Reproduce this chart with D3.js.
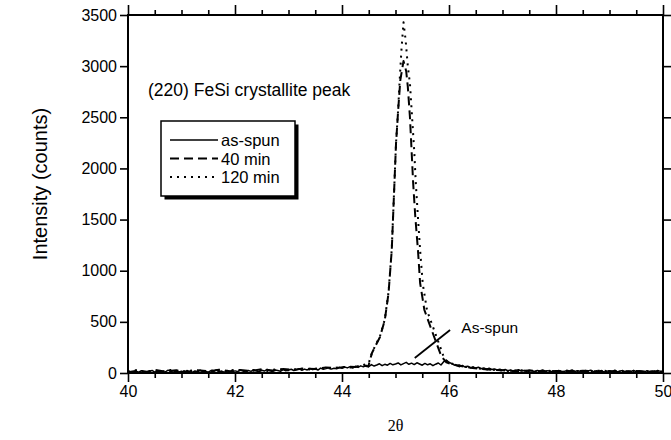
<!DOCTYPE html>
<html>
<head>
<meta charset="utf-8">
<script src="https://cdn.jsdelivr.net/npm/d3@7"></script>
<style>
    body { margin: 0; background: #fff; }
    svg { font-family: "Liberation Sans", Arial, Helvetica, sans-serif; }
    .axis path, .axis line { stroke: #000; }
</style>
</head>
<body>
<div id="chart"></div>
<script>
'use strict';

// as-spun scan: start angle, step width and counts (one value per step)
const asSpunStart = 40;
const asSpunStep = 0.05;
const asSpunCounts = [
    5, 12, 3, 18, 8, 22, 10, 4, 16, 25, 9, 14, 20, 6, 12, 28, 15, 8, 19, 11,
    17, 9, 24, 13, 6, 20, 15, 27, 10, 18, 8, 22, 14, 30, 12, 19, 7, 24, 16, 11,
    21, 14, 28, 18, 9, 25, 16, 32, 20, 13, 27, 19, 35, 22, 15, 29, 24, 17, 33, 21,
    28, 37, 24, 31, 42, 26, 38, 30, 45, 33, 40, 29, 48, 36, 43, 52, 38, 47, 41, 55,
    46, 58, 50, 62, 48, 66, 55, 70, 60, 75, 63, 82, 68, 78, 90, 72, 85, 76, 94, 80,
    88, 98, 79, 92, 104, 85, 96, 82, 100, 88, 76, 94, 80, 90, 72, 86, 98, 78, 110, 125,
    105, 92, 78, 70, 62, 74, 58, 66, 52, 60, 48, 56, 42, 50, 38, 46, 34, 40, 30, 36,
    28, 34, 22, 30, 18, 26, 32, 20, 24, 16, 28, 22, 14, 25, 19, 30, 17, 23, 12, 20,
    15, 24, 18, 10, 26, 20, 30, 14, 22, 17, 12, 25, 19, 28, 13, 21, 16, 24, 9, 18,
    22, 14, 27, 11, 19, 24, 8, 20, 15, 26, 12, 21, 17, 9, 23, 14, 19, 11, 25, 16,
    12
];

// 40 min anneal: [2theta, counts]
const min40 = [
    [40.0, 8], [40.2, 24], [40.35, 12], [40.5, 30], [40.7, 14], [40.9, 26],
    [41.1, 10], [41.3, 28], [41.5, 16], [41.7, 32], [41.9, 18], [42.1, 30],
    [42.3, 20], [42.5, 36], [42.7, 24], [42.9, 38], [43.1, 30], [43.3, 45],
    [43.5, 38], [43.7, 55], [43.9, 48], [44.1, 62], [44.25, 58], [44.4, 75],
    [44.49, 62], [44.56, 196], [44.63, 270], [44.71, 352], [44.8, 518],
    [44.87, 782], [44.93, 1202], [44.96, 1593], [45.01, 2245], [45.05, 2571],
    [45.09, 2864], [45.15, 3050], [45.2, 2950], [45.23, 2800], [45.27, 2500],
    [45.3, 2180], [45.33, 1857], [45.37, 1528], [45.42, 1200], [45.46, 880],
    [45.54, 616], [45.63, 486], [45.73, 342], [45.86, 160], [45.95, 105],
    [46.05, 85], [46.2, 70], [46.4, 52], [46.6, 40], [46.8, 30], [47.0, 26],
    [47.25, 18], [47.5, 24], [47.75, 14], [48.0, 20], [48.25, 12], [48.5, 22],
    [48.75, 15], [49.0, 18], [49.25, 10], [49.5, 20], [49.75, 12], [50.0, 15]
];

// 120 min anneal: [2theta, counts]
const min120 = [
    [40.0, 14], [40.15, 28], [40.3, 10], [40.45, 22], [40.6, 8], [40.8, 30],
    [41.0, 15], [41.2, 24], [41.4, 9], [41.6, 26], [41.8, 14], [42.0, 33],
    [42.2, 18], [42.4, 28], [42.6, 20], [42.8, 40], [43.0, 26], [43.2, 42],
    [43.4, 34], [43.6, 50], [43.8, 44], [44.0, 60], [44.2, 52], [44.35, 70],
    [44.5, 95], [44.56, 200], [44.63, 275], [44.71, 360], [44.8, 525],
    [44.87, 790], [44.93, 1210], [44.96, 1600], [45.01, 2250], [45.05, 2580],
    [45.08, 2880], [45.11, 3150], [45.15, 3430], [45.19, 3250], [45.23, 3000],
    [45.27, 2830], [45.31, 2500], [45.35, 2170], [45.38, 1850], [45.42, 1520],
    [45.46, 1200], [45.51, 870], [45.59, 610], [45.68, 480], [45.78, 335],
    [45.9, 160], [45.97, 105], [46.1, 85], [46.3, 62], [46.5, 48], [46.7, 36],
    [46.9, 28], [47.1, 20], [47.35, 26], [47.6, 15], [47.85, 22], [48.1, 12],
    [48.35, 20], [48.6, 14], [48.85, 24], [49.1, 11], [49.35, 18], [49.6, 9],
    [49.85, 17], [50.0, 12]
];

const xMajorTicks = [40, 42, 44, 46, 48, 50];
const xMinorTicks = [40.5, 41, 41.5, 42.5, 43, 43.5, 44.5, 45, 45.5, 46.5, 47, 47.5, 48.5, 49, 49.5];
const yTicks = [0, 500, 1000, 1500, 2000, 2500, 3000, 3500];
const legendLabels = ['as-spun', '40 min', '120 min'];

const width = 671, height = 440;
const margins = { top: 15, right: 8, bottom: 67, left: 128 };

const svg = d3.select('#chart').append('svg')
    .attr('width', width)
    .attr('height', height);

const scaleX = d3.scaleLinear()
    .domain([40, 50])
    .range([margins.left, width - margins.right]);

const scaleY = d3.scaleLinear()
    .domain([0, 3500])
    .range([height - margins.bottom, margins.top]);

const tickFont = 16;

// Axes on all four sides, ticks pointing outwards
function styleAxis(g) {
    g.classed('axis', true);
    g.select('.domain').remove();
    g.selectAll('line').attr('stroke-width', 1.6);
    g.selectAll('text')
        .attr('font-size', tickFont)
        .attr('font-family', '"Liberation Sans", Arial, sans-serif')
        .attr('fill', '#000');
}

const x0 = scaleX.range()[0], x1 = scaleX.range()[1];
const y0 = scaleY.range()[0], y1 = scaleY.range()[1];

svg.append('g')
    .attr('transform', `translate(0, ${y0})`)
    .call(d3.axisBottom(scaleX).tickValues(xMajorTicks).tickSize(9).tickPadding(4).tickFormat(d3.format('d')))
    .call(styleAxis);

svg.append('g')
    .attr('transform', `translate(0, ${y0})`)
    .call(d3.axisBottom(scaleX).tickValues(xMinorTicks).tickSize(5).tickFormat(''))
    .call(styleAxis);

svg.append('g')
    .attr('transform', `translate(0, ${y1})`)
    .call(d3.axisTop(scaleX).tickValues(xMajorTicks).tickSize(10).tickFormat(''))
    .call(styleAxis);

svg.append('g')
    .attr('transform', `translate(0, ${y1})`)
    .call(d3.axisTop(scaleX).tickValues(xMinorTicks).tickSize(5).tickFormat(''))
    .call(styleAxis);

svg.append('g')
    .attr('transform', `translate(${x0}, 0)`)
    .call(d3.axisLeft(scaleY).tickValues(yTicks).tickSize(8).tickPadding(3).tickFormat(d3.format('d')))
    .call(styleAxis);

svg.append('g')
    .attr('transform', `translate(${x1}, 0)`)
    .call(d3.axisRight(scaleY).tickValues(yTicks).tickSize(8).tickFormat(''))
    .call(styleAxis);

// frame
svg.append('rect')
    .attr('x', x0)
    .attr('y', y1)
    .attr('width', x1 - x0)
    .attr('height', y0 - y1)
    .attr('fill', 'none')
    .attr('stroke', '#000')
    .attr('stroke-width', 2);

// curves
const line = d3.line()
    .x(d => scaleX(d[0]))
    .y(d => scaleY(d[1]));

const asSpun = asSpunCounts.map((c, i) => [asSpunStart + i * asSpunStep, c]);

const series = [
    { data: asSpun, dash: null, width: 1.5 },
    { data: min40, dash: '9,5', width: 2 },
    { data: min120, dash: '2,5', width: 2 }
];

svg.append('g')
    .selectAll('path.curve')
    .data(series)
    .join('path')
    .classed('curve', true)
    .attr('d', d => line(d.data))
    .attr('fill', 'none')
    .attr('stroke', '#000')
    .attr('stroke-width', d => d.width)
    .attr('stroke-dasharray', d => d.dash)
    .attr('stroke-linejoin', 'round');

// title inside plot
svg.append('text')
    .attr('x', 148)
    .attr('y', 96)
    .attr('font-size', 17.5)
    .text('(220) FeSi crystallite peak');

// legend box with drop shadow
const legend = svg.append('g').attr('transform', 'translate(161, 121)');
const boxW = 134, boxH = 75;

legend.append('rect')
    .attr('x', 3.5).attr('y', 3.5)
    .attr('width', boxW).attr('height', boxH)
    .attr('fill', '#000');

legend.append('rect')
    .attr('width', boxW).attr('height', boxH)
    .attr('fill', '#fff')
    .attr('stroke', '#000')
    .attr('stroke-width', 1.5);

const items = legend.selectAll('g.legend-item')
    .data(legendLabels.map((label, i) => ({ label, s: series[i] })))
    .join('g')
    .classed('legend-item', true)
    .attr('transform', (d, i) => `translate(0, ${19 + i * 18.5})`);

items.append('line')
    .attr('x1', 9).attr('x2', 57)
    .attr('stroke', '#000')
    .attr('stroke-width', d => d.s.width)
    .attr('stroke-dasharray', d => d.s.dash);

items.append('text')
    .attr('x', 60)
    .attr('y', 6)
    .attr('font-size', 16.5)
    .text(d => d.label);

// As-spun pointer
svg.append('line')
    .attr('x1', scaleX(45.36)).attr('y1', scaleY(147))
    .attr('x2', scaleX(46.02)).attr('y2', scaleY(420))
    .attr('stroke', '#000')
    .attr('stroke-width', 1.8);

svg.append('text')
    .attr('x', scaleX(46.23))
    .attr('y', scaleY(390))
    .attr('font-size', 15.5)
    .text('As-spun');

// axis titles
svg.append('text')
    .attr('transform', 'translate(47, 184) rotate(-90)')
    .attr('text-anchor', 'middle')
    .attr('font-size', 20)
    .text('Intensity (counts)');

svg.append('text')
    .attr('x', (x0 + x1) / 2)
    .attr('y', 431)
    .attr('text-anchor', 'middle')
    .attr('font-family', '"Liberation Serif", "Times New Roman", serif')
    .attr('font-size', 16)
    .text('2θ');
</script>
</body>
</html>
